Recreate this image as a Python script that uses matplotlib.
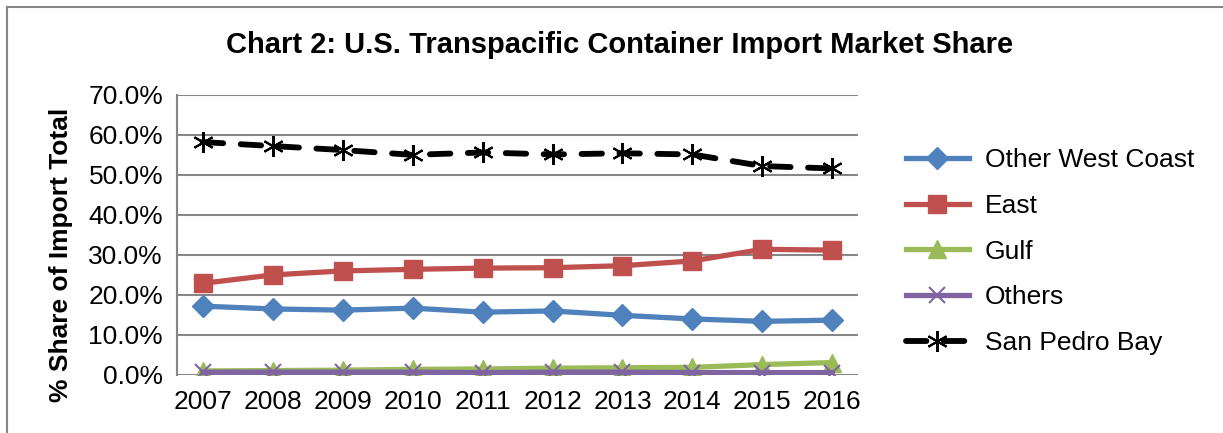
import matplotlib.pyplot as plt
from matplotlib.lines import Line2D
from matplotlib.ticker import PercentFormatter

plt.rcParams['font.family'] = ['Liberation Sans', 'DejaVu Sans']

years = [2007, 2008, 2009, 2010, 2011, 2012, 2013, 2014, 2015, 2016]

other_west_coast = [17.2, 16.5, 16.2, 16.7, 15.7, 16.0, 14.9, 14.0, 13.4, 13.7]
east = [22.9, 25.0, 26.0, 26.4, 26.7, 26.8, 27.3, 28.5, 31.4, 31.2]
gulf = [1.0, 1.1, 1.2, 1.4, 1.5, 1.7, 1.8, 1.9, 2.6, 3.1]
others = [0.7, 0.7, 0.7, 0.7, 0.6, 0.7, 0.7, 0.6, 0.6, 0.6]
san_pedro_bay = [58.2, 57.2, 56.2, 55.0, 55.6, 55.1, 55.4, 55.1, 52.2, 51.6]

fig = plt.figure(figsize=(12.23, 4.33), dpi=100)
ax = fig.add_axes([0.1447, 0.134, 0.557, 0.647])

# рамка діаграми (видно лише верх і ліво)
fig.add_artist(Line2D([0.0057, 0.0057], [0, 0.984], transform=fig.transFigure,
                      color='#868686', lw=1.5))
fig.add_artist(Line2D([0.0057, 1], [0.984, 0.984], transform=fig.transFigure,
                      color='#868686', lw=1.5))

lw = 3.8
ax.plot(years, other_west_coast, color='#4F81BD', lw=lw, marker='D', ms=11,
        label='Other West Coast')
ax.plot(years, east, color='#C0504D', lw=lw, marker='s', ms=13, label='East')
ax.plot(years, gulf, color='#9BBB59', lw=lw, marker='^', ms=13, label='Gulf')
ax.plot(years, others, color='#8064A2', lw=lw, marker='x', ms=12, mew=1.5,
        label='Others')
ax.plot(years, san_pedro_bay, color='black', lw=4.2, ls=(0, (3.5, 3)),
        marker=(6, 2, 0), ms=15, mew=1.5, label='San Pedro Bay',
        dash_capstyle='round')

ax.set_xlim(2006.63, 2016.37)
ax.set_ylim(0, 70)
ax.set_yticks(range(0, 71, 10))
ax.yaxis.set_major_formatter(PercentFormatter(decimals=1))
ax.set_xticks(years)
ax.tick_params(length=0, labelsize=19)
ax.tick_params(axis='y', pad=10)
ax.tick_params(axis='x', pad=11)
ax.grid(axis='y', color='#868686', lw=1.5)
ax.set_axisbelow(True)
for s in ['top', 'right', 'bottom']:
    ax.spines[s].set_visible(False)
ax.spines['left'].set_color('#868686')
ax.spines['left'].set_linewidth(1.5)

ax.set_ylabel('% Share of Import Total', fontsize=19, fontweight='bold')
ax.yaxis.set_label_coords(-0.152, 0.43)
fig.text(0.507, 0.896, 'Chart 2: U.S. Transpacific Container Import Market Share',
         ha='center', va='center', fontsize=21, fontweight='bold')

ax.legend(loc='center left', bbox_to_anchor=(1.035, 0.44), frameon=False,
          fontsize=19, handlelength=2.4, labelspacing=0.82, handletextpad=0.6)

fig.savefig('out.png', dpi=100)
